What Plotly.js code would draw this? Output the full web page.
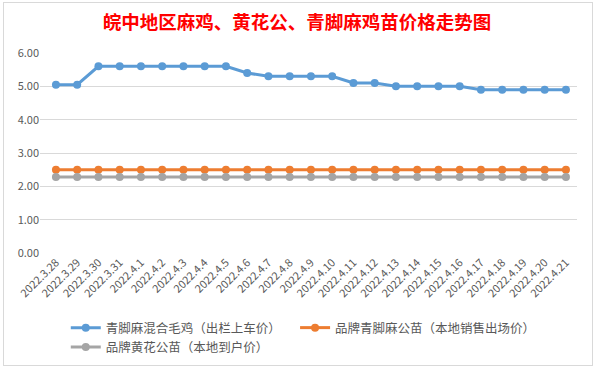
<!DOCTYPE html>
<html><head><meta charset="utf-8">
<script src="https://cdn.plot.ly/plotly-3.0.1.min.js"></script>
<style>
html,body{margin:0;padding:0;background:#fff;}
#wrap{position:relative;width:594px;height:368px;}
#chart{position:absolute;left:0;top:0;width:594px;height:368px;}
#frame{position:absolute;left:3px;top:2px;width:588px;height:362px;border:1px solid #D9D9D9;pointer-events:none;}
</style></head>
<body><div id="wrap"><div id="chart"></div><div id="frame"></div></div>
<script>
const dates = ["2022.3.28","2022.3.29","2022.3.30","2022.3.31","2022.4.1","2022.4.2","2022.4.3","2022.4.4","2022.4.5","2022.4.6","2022.4.7","2022.4.8","2022.4.9","2022.4.10","2022.4.11","2022.4.12","2022.4.13","2022.4.14","2022.4.15","2022.4.16","2022.4.17","2022.4.18","2022.4.19","2022.4.20","2022.4.21"];
const mixedChicken = [5.05,5.05,5.6,5.6,5.6,5.6,5.6,5.6,5.6,5.4,5.3,5.3,5.3,5.3,5.1,5.1,5.0,5.0,5.0,5.0,4.9,4.9,4.9,4.9,4.9];
const qingjiaoMale = [2.5,2.5,2.5,2.5,2.5,2.5,2.5,2.5,2.5,2.5,2.5,2.5,2.5,2.5,2.5,2.5,2.5,2.5,2.5,2.5,2.5,2.5,2.5,2.5,2.5];
const huanghuaMale = [2.28,2.28,2.28,2.28,2.28,2.28,2.28,2.28,2.28,2.28,2.28,2.28,2.28,2.28,2.28,2.28,2.28,2.28,2.28,2.28,2.28,2.28,2.28,2.28,2.28];
const names = ["青脚麻混合毛鸡（出栏上车价）","品牌青脚麻公苗（本地销售出场价）","品牌黄花公苗（本地到户价）"];
const colors = ["#5B9BD5","#ED7D31","#A5A5A5"];
const legendIds = ["legend","legend2","legend"];
const series = [mixedChicken, qingjiaoMale, huanghuaMale];
const idx = dates.map((d,i)=>i);
const traces = series.map((s,k)=>({
  x: idx, y: s, name: names[k], type:'scatter', mode:'lines+markers', legend: legendIds[k],
  line:{color:colors[k], width:3}, marker:{color:colors[k], size:8},
  hovertemplate:'%{y:.2f}<extra></extra>'
}));
const font = "'Noto Sans CJK SC', 'Microsoft YaHei', sans-serif";
const legendFont = {family:font, size:12.5, color:'#595959'};
const layout = {
  width:594, height:368,
  margin:{l:40, r:17, t:53, b:115, autoexpand:false},
  paper_bgcolor:'#fff', plot_bgcolor:'#fff',
  showlegend:true,
  title:{text:'皖中地区麻鸡、黄花公、青脚麻鸡苗价格走势图', x:0.5, xanchor:'center', y:0.94, yanchor:'middle',
         font:{family:font, size:18.5, color:'#FF0000', weight:'bold'}},
  xaxis:{type:'linear', range:[-0.75,24.52], tickmode:'array', tickvals:idx, ticktext:dates,
         tickangle:-45, showgrid:false, zeroline:false, showline:false, ticks:'', automargin:false,
         tickfont:{family:font, size:11, color:'#595959'}, fixedrange:true},
  yaxis:{range:[0,6], dtick:1, tickformat:'.2f', showgrid:true, gridcolor:'#D9D9D9', gridwidth:1, automargin:false,
         zeroline:false, showline:false, ticks:'', tickfont:{family:font, size:11, color:'#595959'}, fixedrange:true},
  legend:{orientation:'v', x:0.048, xanchor:'left', y:-0.3, yanchor:'top',
          font:legendFont, bgcolor:'rgba(0,0,0,0)', itemwidth:30, tracegroupgap:0},
  legend2:{orientation:'v', x:0.475, xanchor:'left', y:-0.3, yanchor:'top',
          font:legendFont, bgcolor:'rgba(0,0,0,0)', itemwidth:30, tracegroupgap:0}
};
Plotly.newPlot('chart', traces, layout, {displayModeBar:false, staticPlot:true});
</script></body></html>
